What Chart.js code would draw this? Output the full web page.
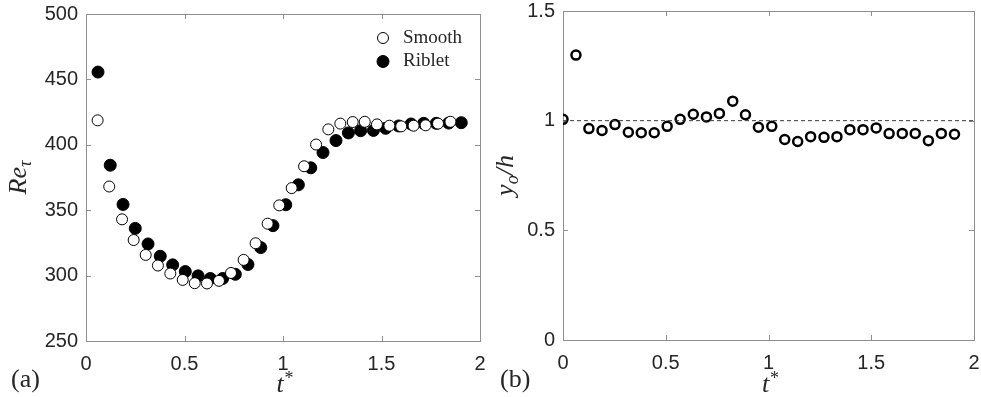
<!DOCTYPE html>
<html>
<head>
<meta charset="utf-8">
<script src="https://cdn.jsdelivr.net/npm/chart.js@4.4.1/dist/chart.umd.min.js"></script>
<style>
  html, body { margin: 0; padding: 0; background: #fff; }
  #wrap { position: relative; width: 981px; height: 397px; }
  canvas { position: absolute; top: 0; }
  #chartA { left: 0; }
  #chartB { left: 490px; }
</style>
</head>
<body>
<div id="wrap">
  <canvas id="chartA" width="490" height="397"></canvas>
  <canvas id="chartB" width="491" height="397"></canvas>
</div>
<script>
// panel (a): friction Reynolds number vs t*
const tSmooth = [0.059, 0.118, 0.183, 0.242, 0.303, 0.365, 0.428, 0.491, 0.552, 0.614,
  0.675, 0.736, 0.800, 0.861, 0.922, 0.981, 1.044, 1.107, 1.168, 1.230,
  1.291, 1.354, 1.415, 1.477, 1.540, 1.600, 1.663, 1.724, 1.787, 1.850]
const reSmooth = [418.7, 368.1, 343.0, 327.2, 315.8, 307.7, 301.6, 296.7, 294.2, 294.0,
  296.0, 302.0, 312.0, 324.7, 339.7, 353.7, 366.9, 383.6, 400.2, 411.8,
  416.2, 417.4, 417.6, 415.6, 414.6, 414.1, 414.6, 414.9, 416.2, 417.6]

const tRiblet = [0.061, 0.123, 0.188, 0.250, 0.315, 0.377, 0.440, 0.504, 0.569, 0.631,
  0.694, 0.758, 0.822, 0.887, 0.949, 1.014, 1.078, 1.141, 1.203, 1.269,
  1.332, 1.394, 1.459, 1.521, 1.587, 1.650, 1.714, 1.778, 1.841, 1.905]
const reRiblet = [455.6, 384.4, 354.4, 336.1, 324.2, 314.8, 308.2, 303.1, 299.8, 297.8,
  297.8, 301.0, 308.5, 321.4, 338.2, 354.2, 369.4, 382.4, 394.1, 403.2,
  409.1, 410.8, 411.0, 412.6, 414.4, 415.9, 416.4, 416.4, 416.6, 416.9]

// panel (b): y_o/h vs t*
const tYo = [0, 0.063, 0.126, 0.190, 0.253, 0.318, 0.381, 0.444, 0.507, 0.570,
  0.634, 0.698, 0.761, 0.826, 0.888, 0.951, 1.016, 1.079, 1.142, 1.205,
  1.270, 1.333, 1.396, 1.460, 1.524, 1.587, 1.651, 1.714, 1.778, 1.841, 1.905]
const yoH = [1.006, 1.299, 0.964, 0.955, 0.982, 0.947, 0.945, 0.945, 0.974, 1.006,
  1.029, 1.017, 1.033, 1.089, 1.027, 0.970, 0.974, 0.914, 0.905, 0.927,
  0.924, 0.927, 0.959, 0.959, 0.967, 0.941, 0.942, 0.942, 0.909, 0.942, 0.938]
const refLine = [1, 1]
const refT = [0, 2]

const xTicksRange = [0, 2]
const reRange = [250, 500]
const yoRange = [0, 1.5]

const tickFont = { family: "'Liberation Sans', Arial, sans-serif", size: 20 }
const serif = "'Liberation Serif', 'Times New Roman', serif"
const boxColor = '#8f8f8f'
const textColor = '#262626'

const toPoints = (xs, ys) => xs.map((x, i) => ({ x: x, y: ys[i] }))

// MATLAB-like box with inward ticks on all four sides
const framePlugin = {
  id: 'frame',
  beforeDatasetsDraw(chart) {
    const { ctx, chartArea: a, scales } = chart
    const len = 5
    ctx.save()
    ctx.strokeStyle = boxColor
    ctx.lineWidth = 1
    ctx.strokeRect(Math.round(a.left) + 0.5, Math.round(a.top) + 0.5,
      Math.round(a.right - a.left), Math.round(a.bottom - a.top))
    ctx.beginPath()
    scales.x.ticks.forEach(t => {
      const px = Math.round(scales.x.getPixelForValue(t.value)) + 0.5
      ctx.moveTo(px, a.bottom); ctx.lineTo(px, a.bottom - len)
      ctx.moveTo(px, a.top); ctx.lineTo(px, a.top + len)
    })
    scales.y.ticks.forEach(t => {
      const py = Math.round(scales.y.getPixelForValue(t.value)) + 0.5
      ctx.moveTo(a.left, py); ctx.lineTo(a.left + len, py)
      ctx.moveTo(a.right, py); ctx.lineTo(a.right - len, py)
    })
    ctx.stroke()
    ctx.restore()
  }
}

// axis titles, panel tag and legend drawn as text with sub/superscripts
const labelsPlugin = {
  id: 'labels',
  afterDraw(chart, args, opts) {
    const { ctx, chartArea: a } = chart
    ctx.save()
    ctx.fillStyle = textColor
    ctx.textBaseline = 'alphabetic'

    // panel tag
    ctx.font = `26px ${serif}`
    ctx.textAlign = 'left'
    ctx.fillText(opts.tag, opts.tagX, 387)

    // x title: t*
    const cx = (a.left + a.right) / 2
    ctx.font = `italic 26px ${serif}`
    const tw = ctx.measureText('t').width
    ctx.fillText('t', cx - tw / 2 - 3, 392)
    ctx.font = `18px ${serif}`
    ctx.fillText('*', cx + tw / 2 - 2, 384)

    // y title, rotated
    ctx.translate(opts.yTitleX, (a.top + a.bottom) / 2)
    ctx.rotate(-Math.PI / 2)
    ctx.font = `italic 26px ${serif}`
    const mainW = ctx.measureText(opts.yMain).width
    ctx.font = `italic 18px ${serif}`
    const subW = ctx.measureText(opts.ySub).width
    ctx.font = `italic 26px ${serif}`
    const restW = opts.yRest ? ctx.measureText(opts.yRest).width : 0
    let x0 = -(mainW + subW + restW) / 2
    ctx.fillText(opts.yMain, x0, 0)
    ctx.font = `italic 18px ${serif}`
    ctx.fillText(opts.ySub, x0 + mainW, 5)
    if (opts.yRest) {
      ctx.font = `italic 26px ${serif}`
      ctx.fillText(opts.yRest, x0 + mainW + subW, 0)
    }
    ctx.restore()

    // legend (panel a only)
    if (opts.legend) {
      ctx.save()
      ctx.font = `19px ${serif}`
      ctx.textBaseline = 'middle'
      chart.data.datasets.forEach((ds, i) => {
        if (!ds.label) return
        const y = 38 + i * 23.5
        ctx.beginPath()
        ctx.arc(383, y, ds.pointRadius, 0, Math.PI * 2)
        ctx.fillStyle = ds.pointBackgroundColor
        ctx.fill()
        ctx.lineWidth = ds.pointBorderWidth
        ctx.strokeStyle = ds.pointBorderColor
        ctx.stroke()
        ctx.fillStyle = textColor
        ctx.fillText(ds.label, 403, y)
      })
      ctx.restore()
    }
  }
}

// plain MATLAB-style tick text: 0, 0.5, 1, 1.5, 2
const plainTick = v => String(+Number(v).toFixed(2))

function axis(range, step, size, horizontal) {
  return {
    type: 'linear',
    min: range[0],
    max: range[1],
    grid: { display: false, drawTicks: false },
    border: { display: false },
    ticks: {
      stepSize: step,
      font: tickFont,
      color: textColor,
      padding: horizontal ? 11 : 8,
      maxRotation: 0,
      callback: plainTick
    },
    // fixed axis size, no extra room for the end labels
    afterFit: s => {
      if (horizontal) s.height = size
      else s.width = size
      s.paddingLeft = 0
      s.paddingRight = 0
      s.paddingTop = 0
      s.paddingBottom = 0
    }
  }
}

new Chart(document.getElementById('chartA'), {
  type: 'scatter',
  data: {
    datasets: [
      {
        label: 'Smooth',
        data: toPoints(tSmooth, reSmooth),
        pointRadius: 5.5,
        pointBackgroundColor: '#ffffff',
        pointBorderColor: '#000000',
        pointBorderWidth: 1
      },
      {
        label: 'Riblet',
        data: toPoints(tRiblet, reRiblet),
        pointRadius: 6,
        pointBackgroundColor: '#000000',
        pointBorderColor: '#000000',
        pointBorderWidth: 1
      }
    ]
  },
  options: {
    responsive: false,
    animation: false,
    devicePixelRatio: 1,
    layout: { padding: { left: 0, right: 10, top: 14, bottom: 0 } },
    scales: {
      x: axis(xTicksRange, 0.5, 56, true),
      y: axis(reRange, 50, 86, false)
    },
    plugins: {
      legend: { display: false },
      tooltip: { enabled: false },
      labels: { tag: '(a)', tagX: 11, yTitleX: 26, yMain: 'Re', ySub: 'τ', legend: true }
    }
  },
  plugins: [framePlugin, labelsPlugin]
})

new Chart(document.getElementById('chartB'), {
  type: 'scatter',
  data: {
    datasets: [
      {
        data: toPoints(refT, refLine),
        showLine: true,
        borderColor: '#3a3a3a',
        borderWidth: 1,
        borderDash: [4, 3],
        pointRadius: 0
      },
      {
        data: toPoints(tYo, yoH),
        pointRadius: 4.5,
        pointBackgroundColor: 'rgba(0,0,0,0)',
        pointBorderColor: '#000000',
        pointBorderWidth: 2.5
      }
    ]
  },
  options: {
    responsive: false,
    animation: false,
    devicePixelRatio: 1,
    layout: { padding: { left: 0, right: 6, top: 11, bottom: 0 } },
    scales: {
      x: axis(xTicksRange, 0.5, 57, true),
      y: axis(yoRange, 0.5, 73, false)
    },
    plugins: {
      legend: { display: false },
      tooltip: { enabled: false },
      labels: { tag: '(b)', tagX: 10, yTitleX: 23, yMain: 'y', ySub: 'o', yRest: '/h', legend: false }
    }
  },
  plugins: [framePlugin, labelsPlugin]
})
</script>
</body>
</html>
